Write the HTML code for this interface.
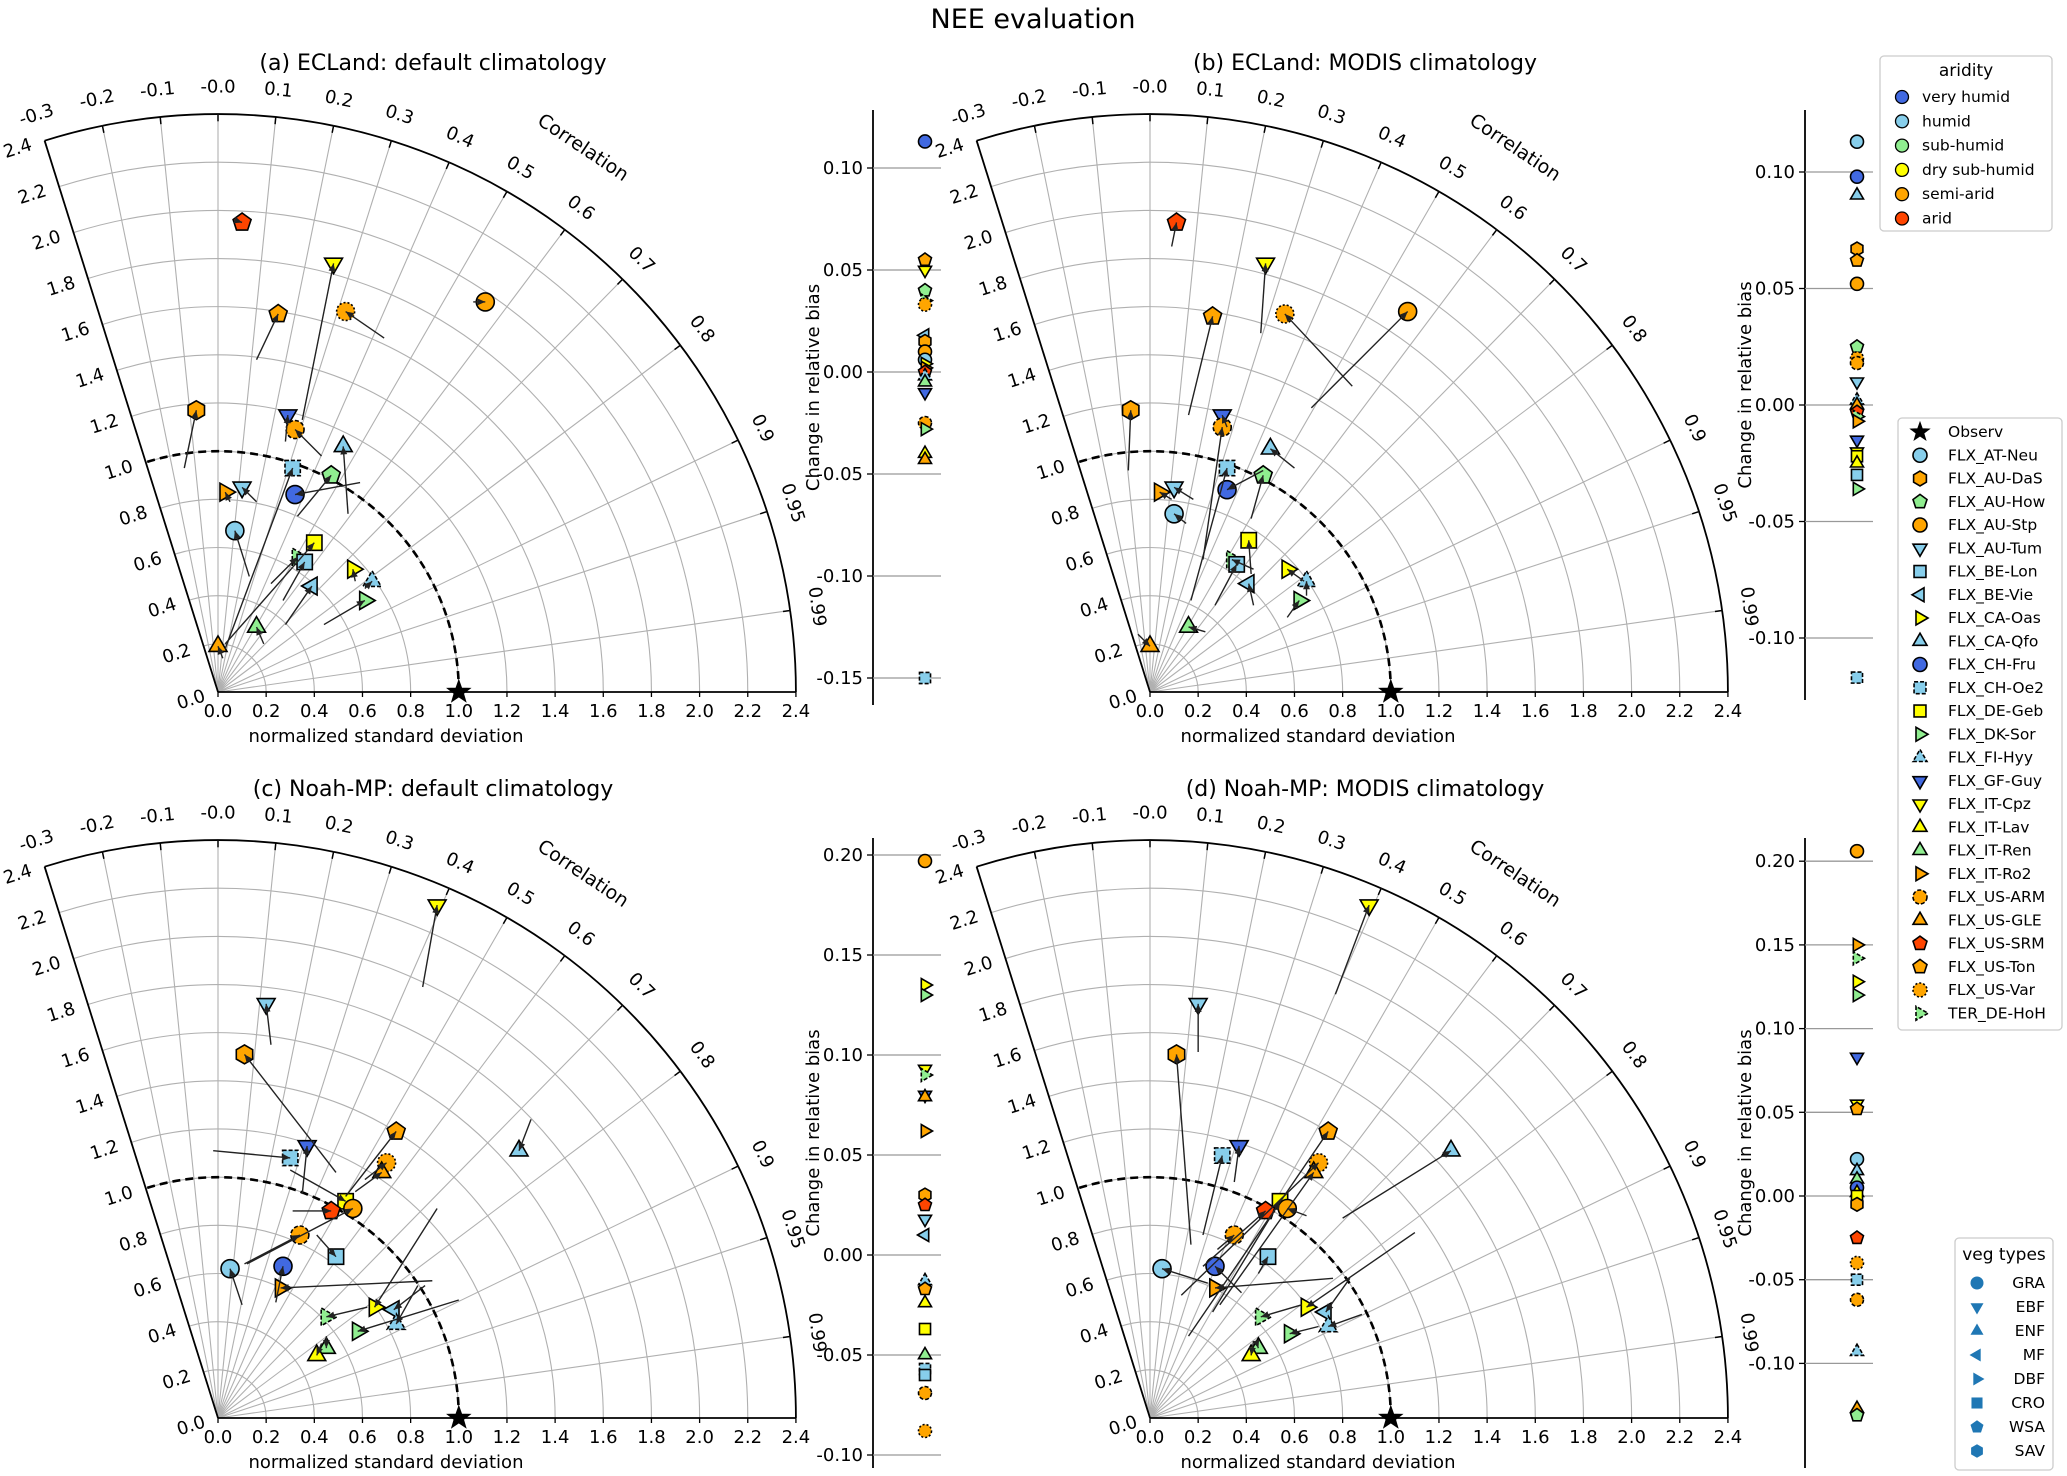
<!DOCTYPE html>
<html><head><meta charset="utf-8"><style>
body{margin:0;background:#fff;}
svg{display:block;font-family:"DejaVu Sans","Liberation Sans",sans-serif;}
</style></head><body>
<svg id="fig" width="2067" height="1476" viewBox="0 0 2067 1476" xmlns="http://www.w3.org/2000/svg">
<text x="1033" y="28" font-size="27" text-anchor="middle">NEE evaluation</text>
</svg>
<script>
// ---- site definitions ----
const siteNames=["AT-Neu","AU-DaS","AU-How","AU-Stp","AU-Tum","BE-Lon","BE-Vie","CA-Oas","CA-Qfo","CH-Fru","CH-Oe2","DE-Geb","DK-Sor","FI-Hyy","GF-Guy","IT-Cpz","IT-Lav","IT-Ren","IT-Ro2","US-ARM","US-GLE","US-SRM","US-Ton","US-Var","DE-HoH"];
const siteShapes=["circle","hexagon","pentagon","circle","tridown","square","trileft","triright","triup","circle","square","square","triright","triup","tridown","tridown","triup","triup","triright","circle","triup","pentagon","pentagon","circle","triright"];
const siteColors=["#87ceeb","#ffa500","#90ee90","#ffa500","#87ceeb","#87ceeb","#87ceeb","#ffff00","#87ceeb","#4169e1","#87ceeb","#ffff00","#90ee90","#87ceeb","#4169e1","#ffff00","#ffff00","#90ee90","#ffa500","#ffa500","#ffa500","#ff4500","#ffa500","#ffa500","#90ee90"];
const siteDash=["","","","","","","","","","","4,2","","","4,2","","","","","","4,2","","","","2,2","4,2"];

// ---- panel (a) data: x/y in normalized std units, tails ----
const sitesA=["US-SRM","IT-Cpz","US-Var","AU-Stp","US-Ton","AU-DaS","GF-Guy","US-ARM","CA-Qfo","CH-Oe2","AU-How","CH-Fru","IT-Ro2","AU-Tum","AT-Neu","DE-Geb","DE-HoH","BE-Lon","BE-Vie","CA-Oas","FI-Hyy","DK-Sor","IT-Ren","US-GLE"];
const xA=[0.10,0.48,0.53,1.11,0.25,-0.09,0.29,0.32,0.52,0.31,0.47,0.32,0.03,0.10,0.07,0.40,0.33,0.36,0.39,0.56,0.64,0.61,0.16,0.00];
const yA=[1.95,1.78,1.58,1.62,1.57,1.17,1.15,1.09,1.02,0.93,0.90,0.82,0.83,0.85,0.67,0.62,0.56,0.54,0.44,0.51,0.46,0.38,0.27,0.19];
const txA=[0.07,0.35,0.69,1.06,0.16,-0.14,0.28,0.43,0.54,0.03,0.33,0.59,0.05,0.16,0.13,0.03,0.22,0.27,0.28,0.57,0.61,0.44,0.19,0.02];
const tyA=[1.96,1.13,1.47,1.62,1.38,0.93,1.04,0.98,0.74,0.18,0.73,0.87,0.79,0.79,0.48,0.20,0.45,0.38,0.28,0.46,0.43,0.28,0.20,0.14];

// ---- panel (b) ----
const sitesB=["US-SRM","IT-Cpz","US-Var","AU-Stp","US-Ton","AU-DaS","GF-Guy","US-ARM","CA-Qfo","CH-Oe2","AU-How","CH-Fru","IT-Ro2","AU-Tum","AT-Neu","DE-Geb","DE-HoH","BE-Lon","BE-Vie","CA-Oas","FI-Hyy","DK-Sor","IT-Ren","US-GLE"];
const xB=[0.11,0.48,0.56,1.07,0.26,-0.08,0.30,0.30,0.50,0.32,0.47,0.32,0.04,0.10,0.10,0.41,0.34,0.36,0.41,0.57,0.65,0.62,0.16,0.00];
const yB=[1.95,1.78,1.57,1.58,1.56,1.17,1.15,1.10,1.01,0.93,0.90,0.84,0.83,0.85,0.74,0.63,0.55,0.53,0.45,0.51,0.46,0.38,0.27,0.19];
const txB=[0.09,0.46,0.84,0.67,0.16,-0.09,0.32,0.22,0.60,0.17,0.42,0.47,0.09,0.18,0.15,0.42,0.43,0.27,0.43,0.64,0.65,0.57,0.23,-0.05];
const tyB=[1.85,1.49,1.27,1.18,1.15,0.92,1.10,0.55,0.93,0.38,0.72,0.92,0.80,0.80,0.70,0.49,0.51,0.36,0.36,0.46,0.40,0.31,0.25,0.24];

// ---- panel (c) ----
const sitesC=["IT-Cpz","AU-Tum","AU-DaS","US-Ton","CA-Qfo","GF-Guy","CH-Oe2","US-Var","US-GLE","DE-Geb","AU-Stp","US-SRM","US-ARM","BE-Lon","CH-Fru","AT-Neu","IT-Ro2","CA-Oas","BE-Vie","FI-Hyy","DE-HoH","DK-Sor","IT-Ren","IT-Lav"];
const xC=[0.91,0.20,0.11,0.74,1.25,0.37,0.30,0.70,0.68,0.53,0.56,0.47,0.34,0.49,0.27,0.05,0.26,0.65,0.73,0.74,0.45,0.58,0.45,0.41];
const yC=[2.13,1.72,1.51,1.19,1.11,1.13,1.08,1.06,1.02,0.90,0.87,0.86,0.76,0.67,0.63,0.62,0.54,0.46,0.45,0.39,0.42,0.36,0.29,0.26];
const txC=[0.85,0.22,0.49,0.53,1.30,0.35,-0.02,0.61,0.57,0.30,0.12,0.31,0.11,0.41,0.24,0.10,0.89,0.91,0.86,0.83,0.62,1.00,0.45,0.43];
const tyC=[1.79,1.55,1.02,0.92,1.24,0.93,1.11,0.99,0.94,1.03,0.64,0.86,0.64,0.76,0.48,0.47,0.57,0.87,0.55,0.55,0.46,0.49,0.34,0.31];

// ---- panel (d) ----
const sitesD=["IT-Cpz","AU-Tum","AU-DaS","US-Ton","CA-Qfo","GF-Guy","CH-Oe2","US-Var","US-GLE","DE-Geb","AU-Stp","US-SRM","US-ARM","BE-Lon","CH-Fru","AT-Neu","IT-Ro2","CA-Oas","BE-Vie","FI-Hyy","DE-HoH","DK-Sor","IT-Ren","IT-Lav"];
const xD=[0.91,0.20,0.11,0.74,1.25,0.37,0.30,0.70,0.68,0.54,0.57,0.48,0.35,0.49,0.27,0.05,0.27,0.65,0.73,0.74,0.46,0.58,0.45,0.42];
const yD=[2.13,1.72,1.51,1.19,1.11,1.13,1.09,1.06,1.02,0.90,0.87,0.86,0.76,0.67,0.63,0.62,0.54,0.46,0.44,0.38,0.42,0.35,0.29,0.26];
const txD=[0.77,0.20,0.17,0.16,0.80,0.35,0.22,0.13,0.29,0.26,0.65,0.22,0.28,0.45,0.38,0.24,0.76,1.10,0.83,0.88,0.63,0.70,0.44,0.43];
const tyD=[1.76,1.52,0.72,0.34,0.83,0.98,0.76,0.51,0.47,0.44,0.84,0.63,0.70,0.60,0.52,0.56,0.58,0.77,0.58,0.43,0.47,0.38,0.32,0.32];

// ---- bias strips ----
const biasSitesA=["CH-Fru","US-Ton","IT-Cpz","AU-How","DE-HoH","US-Var","BE-Vie","AU-DaS","AU-Stp","AT-Neu","CA-Oas","IT-Ro2","US-SRM","FI-Hyy","IT-Ren","GF-Guy","US-ARM","DK-Sor","IT-Lav","US-GLE","CH-Oe2"];
const biasA=[0.113,0.055,0.050,0.040,0.035,0.033,0.018,0.015,0.010,0.006,0.004,0.002,0.000,-0.002,-0.005,-0.010,-0.025,-0.028,-0.040,-0.043,-0.150];
const biasSitesB=["AT-Neu","CH-Fru","CA-Qfo","AU-DaS","US-Ton","AU-Stp","AU-How","US-Var","US-ARM","AU-Tum","FI-Hyy","US-GLE","US-SRM","DE-HoH","IT-Ro2","GF-Guy","IT-Cpz","DE-Geb","IT-Lav","BE-Lon","DK-Sor","CH-Oe2"];
const biasB=[0.113,0.098,0.090,0.067,0.062,0.052,0.025,0.020,0.018,0.010,0.002,0.000,-0.003,-0.005,-0.007,-0.015,-0.020,-0.022,-0.025,-0.030,-0.036,-0.117];
const biasSitesC=["AU-Stp","CA-Oas","DK-Sor","IT-Cpz","DE-HoH","GF-Guy","US-GLE","IT-Ro2","AU-DaS","US-SRM","AU-Tum","BE-Vie","FI-Hyy","US-Ton","IT-Lav","DE-Geb","IT-Ren","CH-Oe2","BE-Lon","US-ARM","US-Var"];
const biasC=[0.197,0.135,0.130,0.093,0.090,0.080,0.079,0.062,0.030,0.025,0.018,0.010,-0.013,-0.017,-0.024,-0.037,-0.050,-0.057,-0.060,-0.069,-0.088];
const biasSitesD=["AU-Stp","IT-Ro2","DE-HoH","CA-Oas","DK-Sor","GF-Guy","IT-Cpz","US-Ton","AT-Neu","CA-Qfo","IT-Ren","CH-Fru","IT-Lav","DE-Geb","AU-DaS","US-SRM","US-Var","CH-Oe2","US-ARM","FI-Hyy","US-GLE","AU-How"];
const biasD=[0.206,0.150,0.142,0.128,0.120,0.083,0.055,0.052,0.022,0.015,0.010,0.005,0.002,0.000,-0.005,-0.025,-0.040,-0.050,-0.062,-0.093,-0.127,-0.131];
const ticksAB1=[0.10,0.05,0.00,-0.05,-0.10,-0.15];
const ticksB=[0.10,0.05,0.00,-0.05,-0.10];
const ticksCD=[0.20,0.15,0.10,0.05,0.00,-0.05,-0.10];
const corrTicks=[-0.3,-0.2,-0.1,0.0,0.1,0.2,0.3,0.4,0.5,0.6,0.7,0.8,0.9,0.95,0.99];
const stdTicks=[0,0.2,0.4,0.6,0.8,1.0,1.2,1.4,1.6,1.8,2.0,2.2,2.4];
const aridityLabels=["very humid","humid","sub-humid","dry sub-humid","semi-arid","arid"];
const aridityColors=["#4169e1","#87ceeb","#90ee90","#ffff00","#ffa500","#ff4500"];
const vegLabels=["GRA","EBF","ENF","MF","DBF","CRO","WSA","SAV"];
const vegShapes=["circle","tridown","triup","trileft","triright","square","pentagon","hexagon"];

const NS="http://www.w3.org/2000/svg";
const svg=document.getElementById('fig');
function mk(tag,attrs,parent){const e=document.createElementNS(NS,tag);for(const k in attrs)e.setAttribute(k,attrs[k]);(parent||svg).appendChild(e);return e;}
function txt(x,y,s,size,attrs,parent){const e=mk('text',Object.assign({x:x,y:y,'font-size':size},attrs||{}),parent);e.textContent=s;return e;}

function shapeEl(shape,cx,cy,r,fill,dash,parent){
  let e; const st={fill:fill,stroke:'#000','stroke-width':1.6};
  if(dash)st['stroke-dasharray']=dash;
  const poly=(pts)=>mk('polygon',Object.assign({points:pts.map(p=>(cx+p[0]).toFixed(1)+','+(cy+p[1]).toFixed(1)).join(' ')},st),parent);
  const reg=(n,rot,rr)=>{const p=[];for(let i=0;i<n;i++){const a=rot+i*2*Math.PI/n;p.push([rr*Math.cos(a),rr*Math.sin(a)]);}return poly(p);};
  switch(shape){
    case 'circle': e=mk('circle',Object.assign({cx:cx,cy:cy,r:r},st),parent);break;
    case 'square': e=mk('rect',Object.assign({x:cx-r*0.85,y:cy-r*0.85,width:r*1.7,height:r*1.7},st),parent);break;
    case 'triup': e=reg(3,-Math.PI/2,r*1.15);break;
    case 'tridown': e=reg(3,Math.PI/2,r*1.15);break;
    case 'trileft': e=reg(3,Math.PI,r*1.15);break;
    case 'triright': e=reg(3,0,r*1.15);break;
    case 'pentagon': e=reg(5,-Math.PI/2,r*1.05);break;
    case 'hexagon': e=reg(6,-Math.PI/2,r*1.05);break;
    case 'star': {const p=[];for(let i=0;i<10;i++){const a=-Math.PI/2+i*Math.PI/5;const rr=i%2?r*0.45:r*1.1;p.push([rr*Math.cos(a),rr*Math.sin(a)]);}e=poly(p);break;}
  }
  return e;
}
function siteMarker(name,cx,cy,r,parent){
  const i=siteNames.indexOf(name);
  const e=shapeEl(siteShapes[i],cx,cy,r,siteColors[i],siteDash[i],parent);
  
  
  return e;
}

const S=240.8; const RMAX=2.4; const TMAX=Math.acos(-0.3);
function taylor(key,ox,oy,title,sites,xs,ys,txs,tys){
  const g=mk('g',{});
  
  
  const P=(r,t)=>[ox+r*S*Math.cos(t),oy-r*S*Math.sin(t)];
  for(let k=1;k<=12;k++){
    const r=k*0.2; const a=P(r,0), b=P(r,TMAX);
    const arc=mk('path',{d:`M${a[0]},${a[1]} A${r*S},${r*S} 0 0 0 ${b[0]},${b[1]}`,fill:'none',stroke:k==12?'#000':'#b0b0b0','stroke-width':k==12?1.8:1.1},g);
    
    
  }
  corrTicks.forEach(c=>{
    const t=Math.acos(c); const e=P(RMAX,t);
    if(c>-0.3){const l=mk('line',{x1:ox,y1:oy,x2:e[0],y2:e[1],stroke:'#b0b0b0','stroke-width':1.1},g);
      
      }
    const tk=P(RMAX-0.03,t), tk2=P(RMAX,t);
    mk('line',{x1:tk[0],y1:tk[1],x2:tk2[0],y2:tk2[1],stroke:'#000','stroke-width':1.5},g);
    const lp=P(RMAX+0.11,t); const rot=90-t*180/Math.PI;
    let s=c.toFixed(c==0.95||c==0.99?2:1); if(c==0)s='-0.0';
    const tx=txt(lp[0],lp[1],s,18,{'text-anchor':'middle','dominant-baseline':'middle',transform:`rotate(${rot} ${lp[0]} ${lp[1]})`},g);
    
    
  });
  const le=P(RMAX,TMAX);
  const la=mk('line',{x1:ox,y1:oy,x2:le[0],y2:le[1],stroke:'#000','stroke-width':1.8},g);
  
  
  const ba=mk('line',{x1:ox,y1:oy,x2:ox+RMAX*S,y2:oy,stroke:'#000','stroke-width':1.8},g);
  
  
  stdTicks.forEach(v=>{
    const x=ox+v*S;
    mk('line',{x1:x,y1:oy,x2:x,y2:oy+5,stroke:'#000','stroke-width':1.3},g);
    const t=txt(x,oy+25,v.toFixed(1),18,{'text-anchor':'middle'},g);
    
    
    const p=P(v,TMAX);
    const q=[p[0]-0.954*28,p[1]+0.3*28];
    const t2=txt(q[0],q[1],v.toFixed(1),18,{'text-anchor':'middle','dominant-baseline':'middle',transform:`rotate(${90-TMAX*180/Math.PI} ${q[0]} ${q[1]})`},g);
    
    
  });
  const ra=P(1,0), rb=P(1,TMAX);
  const rc=mk('path',{d:`M${ra[0]},${ra[1]} A${S},${S} 0 0 0 ${rb[0]},${rb[1]}`,fill:'none',stroke:'#000','stroke-width':2.6,'stroke-dasharray':'8,5'},g);
  
  
  const tt=txt(ox+215,oy-622,title,22,{'text-anchor':'middle'},g);
  
  
  const xl=txt(ox+168,oy+50,'normalized standard deviation',18,{'text-anchor':'middle'},g);
  
  
  const cp=P(2.72,0.98);
  const cl=txt(cp[0],cp[1],'Correlation',19,{'text-anchor':'middle','dominant-baseline':'middle',transform:`rotate(${90-0.98*180/Math.PI} ${cp[0]} ${cp[1]})`},g);
  
  
  const mg=mk('g',{},g);
  sites.forEach((n,i)=>{siteMarker(n,ox+xs[i]*S,oy-ys[i]*S,9,mg);});
  const st=shapeEl('star',ox+S,oy,10,'#000','',g);
  
  
  sites.forEach((n,i)=>{
    const x1=ox+txs[i]*S,y1=oy-tys[i]*S,x2=ox+xs[i]*S,y2=oy-ys[i]*S;
    const ln=mk('line',{x1:x1,y1:y1,x2:x2,y2:y2,stroke:'#222','stroke-width':1.4},g);
    
    
    const d=Math.hypot(x2-x1,y2-y1); if(d<3)return;
    const ux=(x2-x1)/d,uy=(y2-y1)/d,L=8,W=3.5;
    mk('polygon',{points:`${x2},${y2} ${x2-ux*L-uy*W},${y2-uy*L+ux*W} ${x2-ux*L+uy*W},${y2-uy*L-ux*W}`,fill:'#222'},g);
  });
}

function strip(key,ax,yz,ppu,top,bot,ticks,bsites,vals){
  const g=mk('g',{});
  
  
  const Y=v=>yz-v*ppu;
  const al=mk('line',{x1:ax,y1:top,x2:ax,y2:bot,stroke:'#000','stroke-width':1.8},g);
  
  
  ticks.forEach(v=>{
    const y=Y(v);
    mk('line',{x1:ax,y1:y,x2:ax+68,y2:y,stroke:'#999','stroke-width':1.3},g);
    mk('line',{x1:ax-6,y1:y,x2:ax,y2:y,stroke:'#000','stroke-width':1.3},g);
    const t=txt(ax-10,y+6,v.toFixed(2),18,{'text-anchor':'end'},g);
    
    
  });
  const ly=(top+bot)/2-20;
  const yl=txt(ax-54,ly,'Change in relative bias',18,{'text-anchor':'middle',transform:`rotate(-90 ${ax-54} ${ly})`},g);
  
  
  bsites.forEach((n,i)=>siteMarker(n,ax+52,Y(vals[i]),6.5,g));
}

taylor('a',218,692,'(a) ECLand: default climatology',sitesA,xA,yA,txA,tyA);
taylor('b',1150,692,'(b) ECLand: MODIS climatology',sitesB,xB,yB,txB,tyB);
taylor('c',218,1418,'(c) Noah-MP: default climatology',sitesC,xC,yC,txC,tyC);
taylor('d',1150,1418,'(d) Noah-MP: MODIS climatology',sitesD,xD,yD,txD,tyD);
strip('a',873,372,2040,110,705,ticksAB1,biasSitesA,biasA);
strip('b',1805,405,2330,110,700,ticksB,biasSitesB,biasB);
strip('c',873,1255,2000,838,1468,ticksCD,biasSitesC,biasC);
strip('d',1805,1196,1674,838,1468,ticksCD,biasSitesD,biasD);

(function(){
  const g=mk('g',{});
  
  
  mk('rect',{x:1880,y:56,width:172,height:175,rx:4,fill:'#fff',stroke:'#ccc','stroke-width':1.3},g);
  txt(1966,76,'aridity',17,{'text-anchor':'middle'},g);
  aridityLabels.forEach((l,i)=>{
    const y=97+i*24.3;
    const c=mk('circle',{cx:1902,cy:y,r:6.5,fill:aridityColors[i],stroke:'#000','stroke-width':1.3},g);
    
    
    const t=txt(1922,y+5,l,15.5,{},g);
    
    
  });
})();
(function(){
  const g=mk('g',{});
  
  
  mk('rect',{x:1898,y:418,width:164,height:612,rx:4,fill:'#fff',stroke:'#ccc','stroke-width':1.3},g);
  const s0=shapeEl('star',1920,432,8,'#000','',g);
  
  
  const t0=txt(1948,437,'Observ',15.5,{},g);
  
  
  siteNames.forEach((n,i)=>{
    const y=432+(i+1)*23.25;
    siteMarker(n,1920,y,7,g);
    const t=txt(1948,y+5,(n=='DE-HoH'?'TER_':'FLX_')+n,15.5,{},g);
    
    
  });
})();
(function(){
  const g=mk('g',{});
  
  
  mk('rect',{x:1955,y:1238,width:98,height:232,rx:4,fill:'#fff',stroke:'#ccc','stroke-width':1.3},g);
  txt(2004,1260,'veg types',17,{'text-anchor':'middle'},g);
  vegLabels.forEach((l,i)=>{
    const y=1283+i*24;
    const m=shapeEl(vegShapes[i],1977,y,6.5,'#1f77b4','',g);
    m.setAttribute('stroke','none');
    
    
    const t=txt(2045,y+5,l,15.5,{'text-anchor':'end'},g);
    
    
  });
})();
</script>
</body></html>
